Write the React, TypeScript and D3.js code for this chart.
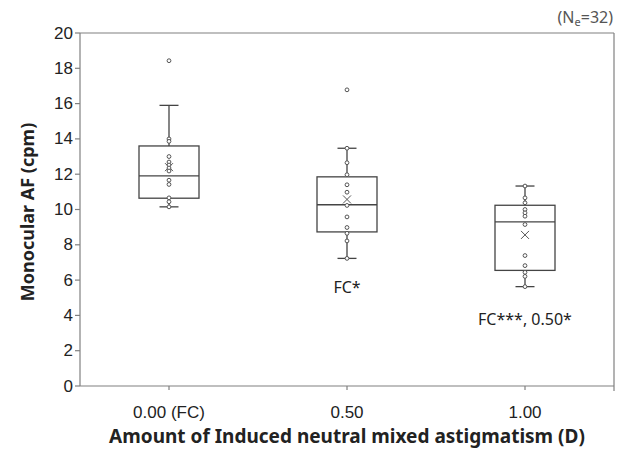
import React from "react";
import * as d3 from "d3";

const categories = ["0.00 (FC)", "0.50", "1.00"];
const q1 = [10.64, 8.73, 6.55];
const medians = [11.91, 10.27, 9.3];
const q3 = [13.6, 11.85, 10.24];
const whiskerLow = [10.15, 7.23, 5.63];
const whiskerHigh = [15.9, 13.47, 11.33];
const means = [12.4, 10.57, 8.56];
const points = [
  [18.43, 14.0, 13.86, 13.0, 12.69, 12.52, 12.35, 12.18, 11.66, 11.42, 10.66, 10.44, 10.15],
  [16.78, 12.65, 11.97, 11.4, 10.98, 10.23, 9.58, 8.98, 8.65, 8.22, 7.23, 13.47],
  [11.33, 10.66, 10.38, 10.0, 9.81, 9.62, 9.15, 7.39, 6.82, 6.44, 6.21, 5.63],
];
const annotations = ["", "FC*", "FC***, 0.50*"];
const annotationValues = [0, 5.6, 3.8];
const yTicks = [0, 2, 4, 6, 8, 10, 12, 14, 16, 18, 20];

const W = 630;
const H = 450;
const left = 80;
const right = 614;
const top = 33;
const bottom = 386;

export default function App() {
  const x = d3.scaleBand<string>().domain(categories).range([left, right]);
  const y = d3.scaleLinear().domain([0, 20]).range([bottom, top]);
  const bw = 60;
  const cap = 19;
  const stroke = "#444";
  const axisColor = "#808080";
  return (
    <svg width={W} height={H} style={{ position: "absolute", left: 0, top: 0 }}>
      <rect x={0} y={0} width={W} height={H} fill="#fff" />
      <line x1={left} x2={right} y1={top} y2={top} stroke={axisColor} strokeWidth={1.2} />
      <line x1={right} x2={right} y1={top} y2={bottom + 5} stroke={axisColor} strokeWidth={1.2} />
      <line x1={left} x2={left} y1={top} y2={bottom} stroke={axisColor} strokeWidth={1.2} />
      <line x1={left} x2={right} y1={bottom} y2={bottom} stroke={axisColor} strokeWidth={1.2} />
      {yTicks.map((t) => (
        <g key={t}>
          <line x1={left - 5} x2={left} y1={y(t)} y2={y(t)} stroke={axisColor} strokeWidth={1.2} />
          <text
            x={left - 7}
            y={y(t)}
            textAnchor="end"
            dominantBaseline="central"
            fontFamily="Liberation Sans, Arial, sans-serif"
            fontSize={17}
            fill="#222"
          >
            {t}
          </text>
        </g>
      ))}
      {categories.map((c) => {
        const cx = x(c)! + x.bandwidth() / 2;
        return (
          <g key={c}>
            <line x1={cx} x2={cx} y1={bottom} y2={bottom + 4} stroke={axisColor} strokeWidth={1.2} />
            <text
              x={cx}
              y={412}
              textAnchor="middle"
              dominantBaseline="central"
              fontFamily="Liberation Sans, Arial, sans-serif"
              fontSize={17}
              fill="#222"
            >
              {c}
            </text>
          </g>
        );
      })}
      {categories.map((c, i) => {
        const cx = x(c)! + x.bandwidth() / 2;
        const m = y(means[i]);
        return (
          <g key={"b" + c}>
            <line x1={cx} x2={cx} y1={y(whiskerHigh[i])} y2={y(q3[i])} stroke={stroke} strokeWidth={1.3} />
            <line x1={cx} x2={cx} y1={y(q1[i])} y2={y(whiskerLow[i])} stroke={stroke} strokeWidth={1.3} />
            <line x1={cx - cap / 2} x2={cx + cap / 2} y1={y(whiskerHigh[i])} y2={y(whiskerHigh[i])} stroke={stroke} strokeWidth={1.3} />
            <line x1={cx - cap / 2} x2={cx + cap / 2} y1={y(whiskerLow[i])} y2={y(whiskerLow[i])} stroke={stroke} strokeWidth={1.3} />
            <rect
              x={cx - bw / 2}
              y={y(q3[i])}
              width={bw}
              height={y(q1[i]) - y(q3[i])}
              fill="none"
              stroke={stroke}
              strokeWidth={1.3}
            />
            <line x1={cx - bw / 2} x2={cx + bw / 2} y1={y(medians[i])} y2={y(medians[i])} stroke={stroke} strokeWidth={1.3} />
            <path
              d={`M${cx - 4},${m - 4}L${cx + 4},${m + 4}M${cx - 4},${m + 4}L${cx + 4},${m - 4}`}
              stroke="#555"
              strokeWidth={1}
              fill="none"
            />
            {points[i].map((p, j) => (
              <circle key={j} cx={cx} cy={y(p)} r={1.9} fill="#fff" stroke="#555" strokeWidth={1} />
            ))}
            {annotations[i] && (
              <text
                x={cx}
                y={y(annotationValues[i])}
                textAnchor="middle"
                dominantBaseline="central"
                fontFamily="Noto Sans, DejaVu Sans, sans-serif"
                fontSize={16}
                fill="#222"
              >
                {annotations[i]}
              </text>
            )}
          </g>
        );
      })}
      <text
        x={613}
        y={17}
        textAnchor="end"
        dominantBaseline="central"
        fontFamily="Noto Sans, DejaVu Sans, sans-serif"
        fontSize={16}
        fill="#555"
      >
        (N
        <tspan fontSize={11} dy={4}>e</tspan>
        <tspan dy={-4}>=32)</tspan>
      </text>
      <text
        transform={`translate(27, 212) rotate(-90)`}
        textAnchor="middle"
        dominantBaseline="central"
        fontFamily="Noto Sans, DejaVu Sans, sans-serif"
        fontWeight="bold"
        fontSize={18}
        fill="#222"
      >
        Monocular AF (cpm)
      </text>
      <text
        x={347}
        y={436}
        textAnchor="middle"
        dominantBaseline="central"
        fontFamily="Noto Sans, DejaVu Sans, sans-serif"
        fontWeight="bold"
        fontSize={19}
        fill="#222"
      >
        Amount of Induced neutral mixed astigmatism (D)
      </text>
    </svg>
  );
}
